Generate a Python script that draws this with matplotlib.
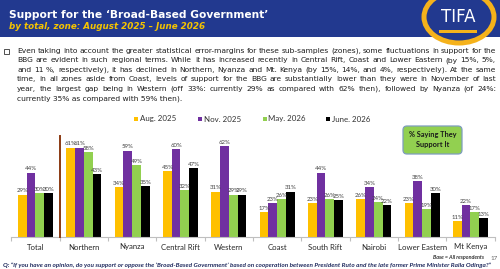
import matplotlib
matplotlib.use("Agg")
import matplotlib.pyplot as plt
from matplotlib.patches import Rectangle, Ellipse, FancyBboxPatch
from matplotlib.transforms import IdentityTransform
import numpy as np

# ---------------- data ----------------
categories = ["Total", "Northern", "Nyanza", "Central Rift", "Western", "Coast",
              "South Rift", "Nairobi", "Lower Eastern", "Mt Kenya"]
series_names = ["Aug. 2025", "Nov. 2025", "May. 2026", "June. 2026"]
aug_2025 = [29, 61, 34, 45, 31, 17, 23, 26, 23, 11]
nov_2025 = [44, 61, 59, 60, 62, 23, 44, 34, 38, 22]
may_2026 = [30, 58, 49, 32, 29, 26, 26, 24, 19, 17]
jun_2026 = [30, 43, 35, 47, 29, 31, 25, 22, 30, 13]
series_colors = ["#FFC000", "#7030A0", "#92D050", "#000000"]

title = "Support for the \u2018Broad-Based Government\u2019"
subtitle = "by total, zone: August 2025 \u2013 June 2026"
body_lines = [
    "Even taking into account the greater statistical error-margins for these sub-samples (zones), some fluctuations in support for the",
    "BBG are evident in such regional terms.  While it has increased recently in Central Rift, Coast and Lower Eastern (by 15%, 5%,",
    "and 11 %, respectively), it has declined in Northern, Nyanza and Mt. Kenya (by 15%, 14%, and 4%, respectively). At the same",
    "time, in all zones aside from Coast, levels of support for the BBG are substantially lower than they were in November of last",
    "year, the largest gap being in Western (off 33%: currently 29% as compared with 62% then), followed by Nyanza (of 24%:",
    "currently 35% as compared with 59% then).",
]
question = ("Q: \u201cIf you have an opinion, do you support or oppose the \u2018Broad-Based Government\u2019 based on "
            "cooperation between President Ruto and the late former Prime Minister Raila Odinga?\u201d")
box_text = "% Saying They\nSupport It"

# ---------------- figure ----------------
W, H = 500, 269
fig = plt.figure(figsize=(5, 2.69), dpi=100)
fig.patch.set_facecolor("white")
renderer = fig.canvas.get_renderer()

def fx(x):
    return x / W

def fy(y):
    return 1 - y / H

def width_of(s, size, **kw):
    t = fig.text(0, 0, s, fontsize=size, **kw)
    w = t.get_window_extent(renderer).width
    t.remove()
    return w

def fit_text(x, y, s, target_w, size0=8, **kw):
    w = width_of(s, size0, **kw)
    return fig.text(fx(x), fy(y), s, fontsize=size0 * target_w / w, **kw)

BLUE = "#22398F"
# header band
fig.patches.append(Rectangle((0, fy(37)), 1, 37 / H, transform=fig.transFigure,
                             facecolor=BLUE, edgecolor="none", zorder=0))
# logo
fig.patches.append(Ellipse((fx(459), fy(17)), 70 / W, 52 / H, transform=fig.transFigure,
                           facecolor=BLUE, edgecolor="#F5B21B", lw=3.6, zorder=1))
fig.text(fx(458), fy(17), "TIFA", color="white", fontsize=12, ha="center", va="center",
         family="DejaVu Sans", zorder=2)
fig.patches.append(Rectangle((fx(439), fy(33)), 38 / W, 3 / H, transform=fig.transFigure,
                             facecolor="#F5B21B", edgecolor="none", zorder=2))

fit_text(9, 15, title, 258, color="white", fontweight="bold", va="center",
         family="DejaVu Sans")
fit_text(9, 26.5, subtitle, 197, color="#F5C400", fontweight="bold", style="italic",
         va="center", family="DejaVu Sans")

# bullet body (justified)
BODY_COLOR = "#1e1e1e"
BODY_KW = dict(family="DejaVu Sans", color=BODY_COLOR, va="center")
fig.patches.append(Rectangle((fx(4), fy(53.5)), 5 / W, 5 / H, transform=fig.transFigure,
                             facecolor="none", edgecolor="#333333", lw=0.6))
x0, x1 = 17, 496
body_size = 1.07 * 6 * (178 - x0) / width_of(body_lines[-1], 6, **BODY_KW)
for ln in body_lines[:-1]:
    words = ln.split()
    sw = sum(width_of(w_, body_size, **BODY_KW) for w_ in words)
    need = sw + 1.8 * (len(words) - 1)
    if need > x1 - x0:
        body_size *= (x1 - x0) / need
line_y = [50.7, 60.3, 69.7, 79.3, 88.7, 98.3]
for i, (ln, yy) in enumerate(zip(body_lines, line_y)):
    if i == len(body_lines) - 1:
        fig.text(fx(x0), fy(yy), ln, fontsize=body_size, **BODY_KW)
        continue
    words = ln.split()
    widths = [width_of(w_, body_size, **BODY_KW) for w_ in words]
    gap = (x1 - x0 - sum(widths)) / (len(words) - 1)
    xx = x0
    for w_, wd in zip(words, widths):
        fig.text(fx(xx), fy(yy), w_, fontsize=body_size, **BODY_KW)
        xx += wd + gap

# legend
leg_x = [134, 198, 263, 326]
for name, col, lx in zip(series_names, series_colors, leg_x):
    fig.patches.append(Rectangle((fx(lx), fy(121)), 4 / W, 4 / H, transform=fig.transFigure,
                                 facecolor=col, edgecolor="none"))
    fig.text(fx(lx + 5.5), fy(119), name, fontsize=5.7, family="Lato", color="#333333",
             va="center")

# ---------------- chart ----------------
PPU = 1.465  # pixels per percent
ax = fig.add_axes([fx(11.3), fy(237), 483.3 / W, 107 / H])
ax.set_xlim(-0.5, 9.5)
ax.set_ylim(0, 107 / PPU)
ax.patch.set_alpha(0)
for s in ["top", "right", "left"]:
    ax.spines[s].set_visible(False)
ax.spines["bottom"].set_color("#BFBFBF")
ax.spines["bottom"].set_linewidth(0.8)
ax.set_yticks([])
ax.set_xticks(np.arange(-0.5, 10, 1))
ax.set_xticklabels([])
ax.tick_params(axis="x", length=3, color="#BFBFBF", width=0.8)

x = np.arange(len(categories))
bw = 0.181
all_series = [aug_2025, nov_2025, may_2026, jun_2026]
for k, (vals, col) in enumerate(zip(all_series, series_colors)):
    xs = x + (k - 1.5) * bw
    ax.bar(xs, vals, width=bw, color=col, edgecolor="none", zorder=2)
    for xi, v in zip(xs, vals):
        ax.text(xi, v + 1.2 / PPU, f"{v}%", ha="center", va="bottom", fontsize=4.3,
                family="Lato", color="#404040", zorder=3)

for xi, c in zip(x, categories):
    ax.text(xi, -10 / PPU, c, ha="center", va="center", fontsize=5.6, family="Lato",
            color="#262626", clip_on=False)

# separator after Total
ax.plot([0.5, 0.5], [0, 101 / PPU], color="#8B3A12", lw=1.4, clip_on=False, zorder=3)

# green box
box = FancyBboxPatch((403, H - 154), 59, 28, boxstyle="round,pad=0,rounding_size=4",
                     transform=IdentityTransform(), facecolor="#92D050",
                     edgecolor="#7F9DBE", lw=0.9)
fig.patches.append(box)
fig.text(fx(432.5), fy(140), box_text, ha="center", va="center", fontsize=5.3,
         fontweight="bold", family="Lato", color="#1a1a1a", linespacing=1.5)

# footer
fit_text(3, 265, question, 489, color="#1F2A5E", fontweight="bold", style="italic",
         va="center", family="Lato")
fit_text(433, 257.5, "Base = All respondents", 52, color="#333333", fontweight="bold",
         style="italic", va="center", family="Lato")
fig.text(fx(490), fy(258), "17", fontsize=4.5, color="#666666", va="center", family="Lato")

fig.savefig("out.png", dpi=100, facecolor="white")
